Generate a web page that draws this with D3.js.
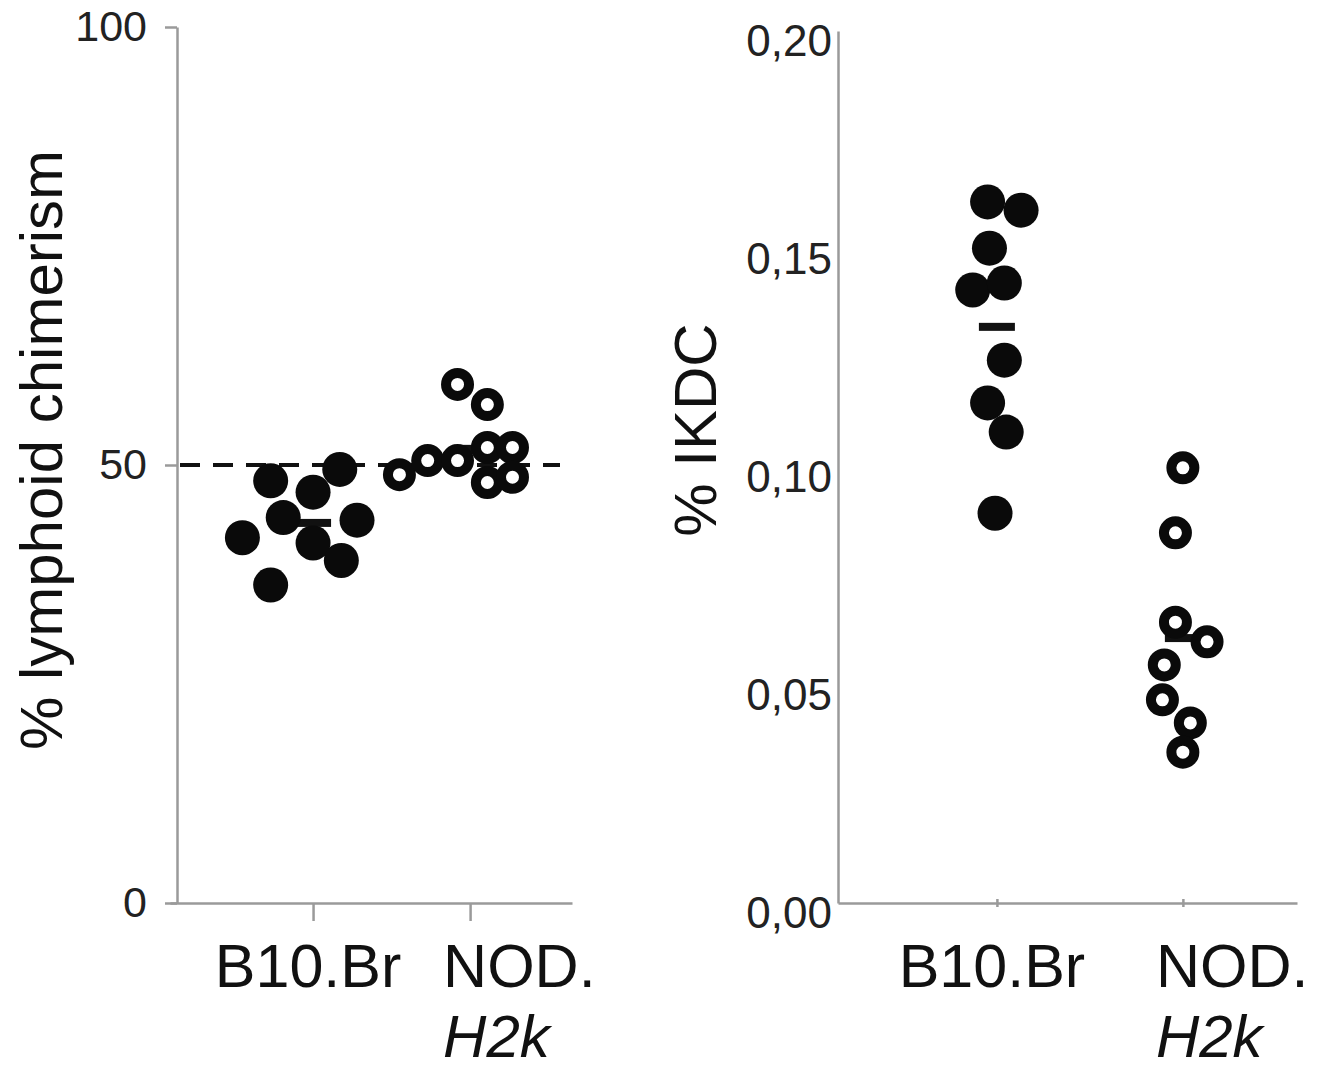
<!DOCTYPE html>
<html><head><meta charset="utf-8">
<script src="https://cdn.jsdelivr.net/npm/d3@7"></script>
<style>body{margin:0;background:#fff}svg{display:block}</style>
</head><body><svg id="c" width="1323" height="1072"></svg>
<script>
// ---------- data ----------
const categories = ["B10.Br", "NOD."];
const categorySub = ["", "H2k"];

// panel A: % lymphoid chimerism
const chimerismB10 = [48.2, 49.5, 46.9, 44.0, 41.7, 41.1, 43.7, 39.1, 36.3];
const chimerismNOD = [59.2, 56.9, 48.9, 50.5, 50.5, 52.0, 52.0, 48.0, 48.6];
const chimerismTicks = [0, 50, 100];
const chimerismRef = 50;

// panel B: % IKDC
const ikdcB10 = [0.1608, 0.1589, 0.1502, 0.1406, 0.1422, 0.1245, 0.1147, 0.1080, 0.0894];
const ikdcNOD = [0.0998, 0.0849, 0.0644, 0.0599, 0.0546, 0.0466, 0.0413, 0.0346];
const ikdcTicks = [0, 0.05, 0.10, 0.15, 0.20];

// horizontal scatter (fraction of category step)
const jitterChimB10 = [-0.27, 0.17, 0, -0.19, -0.45, 0, 0.28, 0.18, -0.27];
const jitterChimNOD = [-0.08, 0.11, -0.45, -0.27, -0.08, 0.11, 0.27, 0.11, 0.27];
const jitterIkdcB10 = [-0.05, 0.13, -0.04, -0.13, 0.04, 0.04, -0.05, 0.05, -0.01];
const jitterIkdcNOD = [0, -0.04, -0.04, 0.13, -0.10, -0.11, 0.04, 0];

// ---------- drawing ----------
const svg = d3.select("#c");
svg.append("rect").attr("width", 1323).attr("height", 1072).attr("fill", "#fff");
const FONT = "'Liberation Sans', Arial, Helvetica, sans-serif";
const AXIS = "#9a9a9a";

function panel(opt) {
  const g = svg.append("g");
  const x = d3.scalePoint().domain(categories).range(opt.xRange).padding(opt.pad).align(opt.align);
  const y = d3.scaleLinear().domain(opt.yDomain).range(opt.yRange);
  const step = x.step();

  // y axis
  const ya = g.append("g").attr("transform", `translate(${opt.xRange[0] + opt.yAxisShift},0)`)
    .call(d3.axisLeft(y).tickValues(opt.ticks).tickSizeInner(opt.yTick).tickSizeOuter(0)
      .tickPadding(opt.yPad).tickFormat(opt.fmt));
  ya.select(".domain").attr("stroke", AXIS).attr("stroke-width", 2.5);
  ya.selectAll(".tick line").attr("stroke", AXIS).attr("stroke-width", 2.5);
  ya.selectAll(".tick text").attr("font-family", FONT).attr("font-size", opt.tickFs)
    .attr("fill", "#222").attr("dy", opt.tickDy);

  // x axis
  const xa = g.append("g").attr("transform", `translate(0,${opt.yRange[0]})`)
    .call(d3.axisBottom(x).tickSizeInner(opt.xTick).tickSizeOuter(0).tickFormat(""));
  xa.select(".domain").attr("stroke", AXIS).attr("stroke-width", 2.5);
  xa.selectAll(".tick line").attr("stroke", AXIS).attr("stroke-width", 2.5)
    .attr("y1", opt.xTickUp);

  // category labels
  categories.forEach((c, i) => {
    const cx = x(c);
    if (i === 0) {
      g.append("text").attr("x", cx - 5).attr("y", opt.labelY).attr("text-anchor", "middle")
        .attr("font-family", FONT).attr("font-size", 61).attr("fill", "#111").text(c);
    } else {
      g.append("text").attr("x", cx - 27).attr("y", opt.labelY).attr("text-anchor", "start")
        .attr("font-family", FONT).attr("font-size", 61).attr("fill", "#111").text(c);
      g.append("text").attr("x", cx - 27).attr("y", opt.labelY + 70).attr("text-anchor", "start")
        .attr("font-family", FONT).attr("font-size", 60).attr("font-style", "italic")
        .attr("fill", "#111").text(categorySub[i]);
    }
  });

  // axis title
  g.append("text").attr("transform", `translate(${opt.titleX},${opt.titleY}) rotate(-90)`)
    .attr("text-anchor", "middle").attr("font-family", FONT).attr("font-size", 60)
    .attr("fill", "#111").text(opt.title);

  // reference line
  if (opt.ref != null) {
    g.append("line").attr("x1", opt.xRange[0] + 10).attr("x2", opt.xRange[1] - 12)
      .attr("y1", y(opt.ref)).attr("y2", y(opt.ref))
      .attr("stroke", "#111").attr("stroke-width", 4).attr("stroke-dasharray", "20,13");
  }

  // points
  const groups = [
    { cat: categories[0], vals: opt.a, jit: opt.ja, filled: true },
    { cat: categories[1], vals: opt.b, jit: opt.jb, filled: false }
  ];
  groups.forEach(gr => {
    const cx = x(gr.cat);
    // mean bar
    const m = d3.mean(gr.vals);
    g.append("rect").attr("x", cx - 18).attr("y", y(m) - 4).attr("width", 36).attr("height", 8)
      .attr("fill", "#111");
    g.selectAll(null).data(gr.vals.map((v, i) => ({ v, j: gr.jit[i] }))).join("circle")
      .attr("cx", d => cx + d.j * step)
      .attr("cy", d => y(d.v))
      .attr("r", gr.filled ? 17.5 : 11.5)
      .attr("fill", gr.filled ? "#0a0a0a" : "#fff")
      .attr("stroke", gr.filled ? "none" : "#0a0a0a")
      .attr("stroke-width", gr.filled ? 0 : 10);
  });
}

panel({
  xRange: [170, 572], pad: 0.78, align: 0.584, yAxisShift: 7,
  yDomain: [0, 100], yRange: [903, 27], ticks: chimerismTicks,
  fmt: d3.format("d"), yTick: 12, yPad: 18, tickFs: 43, tickDy: "0.32em",
  xTick: 18, xTickUp: 0, labelY: 987,
  title: "% lymphoid chimerism", titleX: 62, titleY: 450,
  ref: chimerismRef,
  a: chimerismB10, b: chimerismNOD, ja: jitterChimB10, jb: jitterChimNOD
});

panel({
  xRange: [838, 1297], pad: 0.734, align: 0.582, yAxisShift: 0,
  yDomain: [0, 0.20], yRange: [903, 31], ticks: ikdcTicks,
  fmt: v => d3.format(".2f")(v).replace(".", ","), yTick: 0, yPad: 6, tickFs: 44, tickDy: "0.55em",
  xTick: 4, xTickUp: -4, labelY: 987,
  title: "% IKDC", titleX: 716, titleY: 430,
  ref: null,
  a: ikdcB10, b: ikdcNOD, ja: jitterIkdcB10, jb: jitterIkdcNOD
});
</script>
</body></html>
